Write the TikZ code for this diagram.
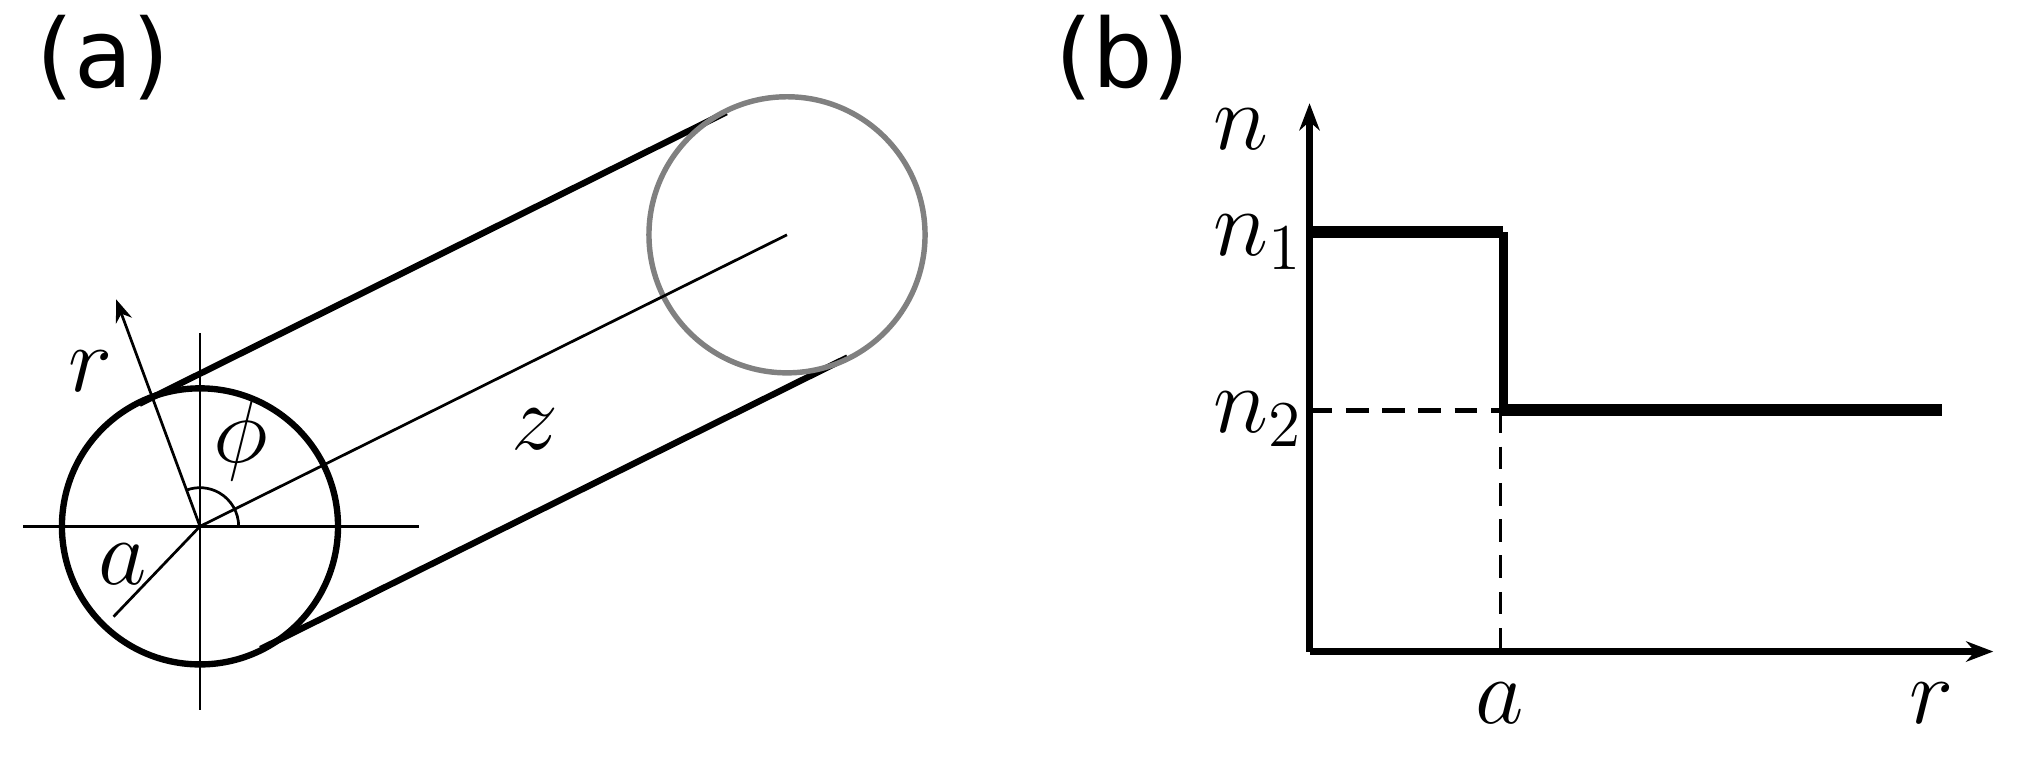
\documentclass[tikz,border=0pt]{standalone}
\usepackage{fontspec}
\setsansfont{DejaVu Sans}
\usetikzlibrary{arrows.meta,calc}
\begin{document}
\begin{tikzpicture}[x=0.01cm,y=-0.01cm,
  thickl/.style={line width=1.4pt},
  thinl/.style={line width=0.6pt},
  lab/.style={font=\fontsize{20}{24}\selectfont},
  panel/.style={font=\sffamily\fontsize{21}{25}\selectfont}]
\useasboundingbox (0,0) rectangle (1568,588);
\node[panel] (pa) at (80,45) {(a)};
\node[panel] (pb) at (870,45) {(b)};
% cylinder
\coordinate (c1) at (155,408);
\coordinate (c2) at (610,182);
\draw[thickl] ($(c1)+(-47,-95)$) coordinate (t1) -- ($(c2)+(-47,-95)$) coordinate (t2);
\draw[thickl] ($(c1)+(47,95)$) coordinate (b1) -- ($(c2)+(47,95)$) coordinate (b2);
\draw[gray,line width=1.2pt] (c2) circle[radius=107];
\draw[thickl] (c1) circle[radius=107];
\draw[thinl] (18,408) coordinate (hl) -- (325,408) coordinate (hr);
\draw[thinl] (155,258) coordinate (vt) -- (155,550) coordinate (vb);
\draw[thinl] (c1) -- (c2);
\draw[thinl,-{Stealth[length=5pt]}] (c1) -- (90,232) coordinate (rt);
\draw[thinl] (c1) -- (88,478) coordinate (ae);
\draw[thinl] ($(c1)+(30,0)$) arc[start angle=0,end angle=-110,radius=30];
\node[lab] (rl) at (70,288) {$r$};
\node[lab] (phil) at (187,340) {$\phi$};
\node[lab] (al) at (95,437) {$a$};
\node[lab] (zl) at (415,333) {$z$};
% plot b
\coordinate (o) at (1015,505);
\draw[thickl,-{Stealth[length=6pt]}] (o) -- (1015,80) coordinate (ytop);
\draw[thickl,-{Stealth[length=6pt]}] (o) -- (1545,505) coordinate (xend);
\draw[line width=2.6pt] (1015,180) -- (1165,180) coordinate (k1);
\draw[line width=2pt] (k1) -- (1165,318) coordinate (k2);
\draw[line width=2.6pt] (1163,318) -- (1505,318) coordinate (k3);
\draw[dash pattern=on 5pt off 3pt, line width=1pt] (1015,318) -- (k2);
\draw[thinl,dash pattern=on 5pt off 3pt] (1163,318) -- (1163,505);
\node[lab] (nl) at (962,100) {$n$};
\node[lab] (n1l) at (975,188) {$n_1$};
\node[lab] (n2l) at (975,325) {$n_2$};
\node[lab] (axl) at (1162,545) {$a$};
\node[lab] (rxl) at (1497,545) {$r$};
\end{tikzpicture}
\end{document}
